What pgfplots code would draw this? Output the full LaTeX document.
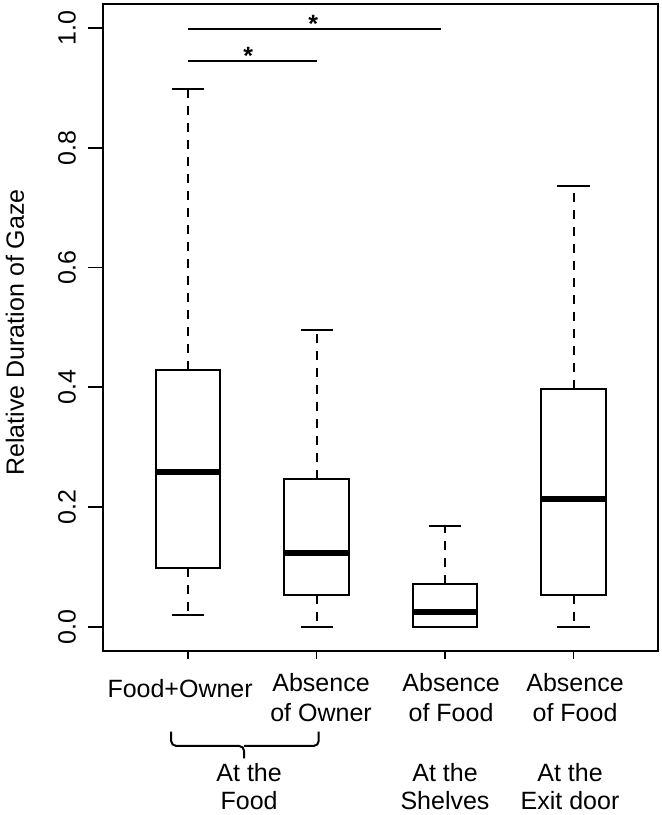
\documentclass[border=0pt]{standalone}
\usepackage{fontspec}
\setmainfont{Liberation Sans}
\usepackage{pgfplots}
\pgfplotsset{compat=1.18}
\usepgfplotslibrary{statistics}
\newcommand\lbl{\fontsize{12.5}{15}\selectfont}
\begin{document}
\begin{tikzpicture}
\begin{axis}[
  scale only axis,
  width=277.5pt, height=323.2pt,
  xmin=0.34, xmax=4.66,
  ymin=-0.04, ymax=1.04,
  axis line style={line width=1pt},
  tick pos=left,
  xtick=\empty,
  extra x ticks={1,2,3,4},
  extra x tick labels={},
  extra x tick style={major tick length=4pt},
  ytick={0,0.2,0.4,0.6,0.8,1.0},
  yticklabels={0.0,0.2,0.4,0.6,0.8,1.0},
  tick align=outside,
  major tick length=7.5pt,
  tick style={line width=0.9pt, black},
  yticklabel shift=6pt,
  yticklabel style={rotate=90, anchor=south, inner sep=0pt, font=\lbl},
  clip=false,
  boxplot/draw direction=y,
  boxplot/box extend=0.5,
  boxplot/whisker extend=0.25,
  boxplot/every box/.style={line width=1pt},
  boxplot/every median/.style={line width=3pt},
  boxplot/draw/lower whisker/.code={%
    \draw[line width=1pt, dash pattern=on 4.5pt off 4pt]
      (boxplot box cs:\pgfplotsboxplotvalue{lower quartile},0.5) --
      (boxplot box cs:\pgfplotsboxplotvalue{lower whisker},0.5);
    \draw[line width=1pt]
      (boxplot whisker cs:\pgfplotsboxplotvalue{lower whisker},0) --
      (boxplot whisker cs:\pgfplotsboxplotvalue{lower whisker},1);
  },
  boxplot/draw/upper whisker/.code={%
    \draw[line width=1pt, dash pattern=on 4.5pt off 4pt]
      (boxplot box cs:\pgfplotsboxplotvalue{upper quartile},0.5) --
      (boxplot box cs:\pgfplotsboxplotvalue{upper whisker},0.5);
    \draw[line width=1pt]
      (boxplot whisker cs:\pgfplotsboxplotvalue{upper whisker},0) --
      (boxplot whisker cs:\pgfplotsboxplotvalue{upper whisker},1);
  },
]
\coordinate (SW) at (rel axis cs:0,0);

\addplot[black, boxplot prepared={draw position=1, lower whisker=0.02, lower quartile=0.098, median=0.258, upper quartile=0.429, upper whisker=0.898}] coordinates {};
\addplot[black, boxplot prepared={draw position=2, lower whisker=0.0, lower quartile=0.053, median=0.123, upper quartile=0.247, upper whisker=0.495}] coordinates {};
\addplot[black, boxplot prepared={draw position=3, lower whisker=0.0, lower quartile=0.0, median=0.025, upper quartile=0.071, upper whisker=0.169}] coordinates {};
\addplot[black, boxplot prepared={draw position=4, lower whisker=0.0, lower quartile=0.053, median=0.214, upper quartile=0.397, upper whisker=0.736}] coordinates {};

% significance bars
\addplot[black, line width=1pt] coordinates {(1,0.998) (2.97,0.998)};
\addplot[black, line width=1pt] coordinates {(1,0.945) (2.006,0.945)};
\node[font=\lbl\bfseries, yshift=-2.7pt] at (axis cs:1.975,1.0165) {*};
\node[font=\lbl\bfseries, yshift=-2.7pt] at (axis cs:1.469,0.962) {*};

% y label
\node[rotate=90, font=\lbl] at ([xshift=-44.15pt, yshift=-2.5pt]rel axis cs:0,0.5) {Relative Duration of Gaze};

% category labels
\node[font=\lbl, anchor=base] at (axis cs:0.938,-0.1186) {Food+Owner};
\node[font=\lbl, anchor=base] at (axis cs:2.035,-0.1086) {Absence};
\node[font=\lbl, anchor=base] at (axis cs:2.035,-0.1587) {of Owner};
\node[font=\lbl, anchor=base] at (axis cs:3.047,-0.1086) {Absence};
\node[font=\lbl, anchor=base] at (axis cs:3.047,-0.1587) {of Food};
\node[font=\lbl, anchor=base] at (axis cs:4.012,-0.1086) {Absence};
\node[font=\lbl, anchor=base] at (axis cs:4.012,-0.1587) {of Food};

% brace
\draw[line width=1pt, rounded corners=2.5pt] (axis cs:0.868,-0.1754) -- (axis cs:0.868,-0.1993) -- (axis cs:1.436,-0.1993) -- (axis cs:1.436,-0.2199);
\draw[line width=1pt, rounded corners=2.5pt] (axis cs:1.436,-0.1993) -- (axis cs:2.017,-0.1993) -- (axis cs:2.017,-0.1754);

% group labels
\node[font=\lbl, anchor=base] at (axis cs:1.475,-0.2590) {At the};
\node[font=\lbl, anchor=base] at (axis cs:1.475,-0.3063) {Food};
\node[font=\lbl, anchor=base] at (axis cs:3.0,-0.2590) {At the};
\node[font=\lbl, anchor=base] at (axis cs:3.0,-0.3063) {Shelves};
\node[font=\lbl, anchor=base] at (axis cs:3.973,-0.2590) {At the};
\node[font=\lbl, anchor=base] at (axis cs:3.973,-0.3063) {Exit door};
\end{axis}
\pgfresetboundingbox
\path[use as bounding box] ([shift={(-51.65pt,-82.2pt)}]SW) rectangle ++(331pt,407.5pt);
\end{tikzpicture}
\end{document}
